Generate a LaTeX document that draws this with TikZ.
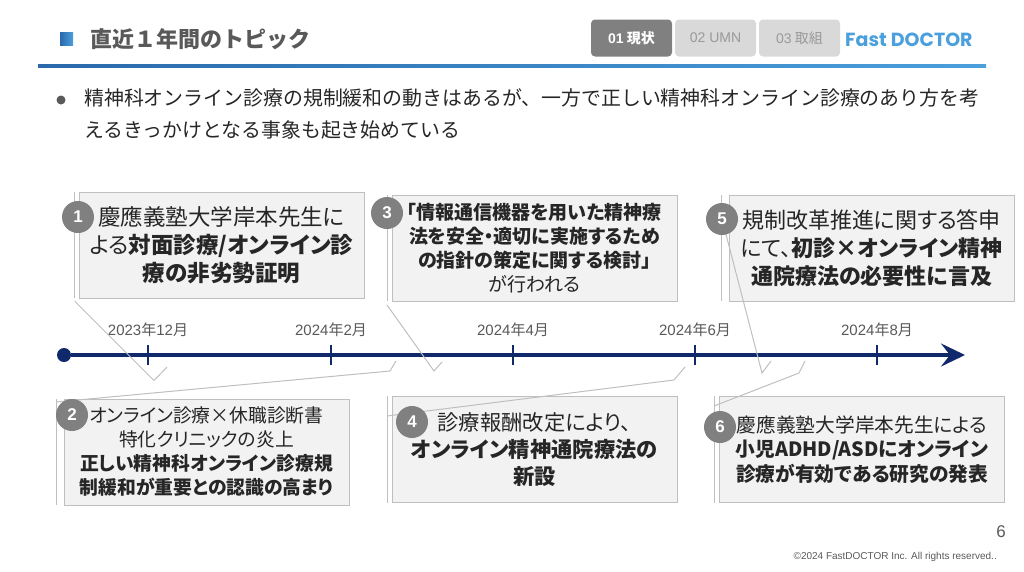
\documentclass[tikz,border=0pt]{standalone}
\usepackage{fontspec}
\setmainfont{Noto Sans CJK JP}
\newfontfamily\latinfont{Liberation Sans}
\newfontfamily\logofont{Poppins}
\usetikzlibrary{calc}
\usetikzlibrary{positioning}
\usetikzlibrary{arrows.meta}
\definecolor{navyline}{HTML}{10296B}
\definecolor{leadgray}{HTML}{BFBFBF}
\definecolor{boxfill}{HTML}{F2F2F2}
\definecolor{dotgray}{HTML}{808080}
\definecolor{tabgray}{HTML}{D9D9D9}
\definecolor{tabtext}{HTML}{999999}
\definecolor{bodytext}{HTML}{262626}
\definecolor{softtext}{HTML}{595959}
\definecolor{logoblue}{HTML}{4A9FDC}
\definecolor{ruledark}{HTML}{2A69AC}
\newcommand{\ymlabel}[2]{{\latinfont #1}年{\latinfont #2}月}
\newcommand{\boxfont}[2]{\addfontfeature{RawFeature=+palt}\fontsize{#1}{#2}\selectfont}
\tikzset{
	topicbox/.style={draw=leadgray,fill=boxfill,line width=1pt,minimum width=285pt,minimum height=106pt,inner sep=0pt,align=center,text=bodytext,execute at begin node={\vspace*{3pt}}},
	leadline/.style={draw=leadgray,line width=1pt},
	numdot/.style={circle,fill=dotgray,minimum size=32pt,inner sep=0pt,text=white,font=\latinfont\bfseries\fontsize{17}{17}\selectfont},
	tabbox/.style={rounded corners=4pt,minimum width=81pt,minimum height=37pt,inner sep=0pt,font=\fontsize{14}{14}\selectfont},
	tickline/.style={draw=navyline,line width=1.6pt},
	datelabel/.style={text=softtext,inner sep=0pt,font=\fontsize{15}{15}\selectfont},
}
\begin{document}
\begin{tikzpicture}[x=1pt,y=-1pt]
	\useasboundingbox (0,0) rectangle (1024,571);
	%header
	\node[minimum size=13pt,inner sep=0pt,left color=ruledark,right color=logoblue] (mark) at (66.5,38.5) {};
	\node[anchor=west,inner sep=0pt,text=softtext,font=\bfseries\fontsize{22}{22}\selectfont] (title) at (90,39.5) {直近１年間のトピック};
	\node[tabbox,fill=dotgray,text=white,font=\bfseries\fontsize{14}{14}\selectfont] (tab1) at (631.5,38) {{\latinfont 01} 現状};
	\node[tabbox,fill=tabgray,text=tabtext] (tab2) at (715.5,38) {{\latinfont 02 UMN}};
	\node[tabbox,fill=tabgray,text=tabtext] (tab3) at (799.5,38) {{\latinfont 03} 取組};
	\node[anchor=west,inner sep=0pt,text=logoblue,font=\logofont\bfseries\fontsize{19}{19}\selectfont] (logo) at (845,39.5) {Fast DOCTOR};
	\node[minimum width=948pt,minimum height=3pt,inner sep=0pt,left color=ruledark,right color=logoblue] (rule) at (512,66) {};
	%lead text
	\node[circle,fill=softtext,minimum size=9pt,inner sep=0pt] (bullet) at (61,100) {};
	\node[anchor=north west,inner sep=0pt,align=left,text=bodytext,font=\fontsize{19.9}{32}\selectfont] (lead) at (84,88) {精神科オンライン診療の規制緩和の動きはあるが、一方で正しい精神科オンライン診療のあり方を考\\えるきっかけとなる事象も起き始めている};
	%topic boxes
	\node[topicbox,font=\boxfont{22.5}{28}] (box1) at (221.5,245) {慶應義塾大学岸本先生に\\よる\textbf{対面診療/オンライン診}\\\textbf{療の非劣勢証明}};
	\node[topicbox,font=\boxfont{19}{24}] (box3) at (534.5,248) {\textbf{「情報通信機器を用いた精神療}\\\textbf{法を安全・適切に実施するため}\\\textbf{の指針の策定に関する検討」}\\が行われる};
	\node[topicbox,font=\boxfont{22}{28}] (box5) at (871.5,248) {規制改革推進に関する答申\\にて、\textbf{初診×オンライン精神}\\\textbf{通院療法の必要性に言及}};
	\node[topicbox,font=\boxfont{18.8}{24}] (box2) at (206.5,452) {オンライン診療×休職診断書\\特化クリニックの炎上\\\textbf{正しい精神科オンライン診療規}\\\textbf{制緩和が重要との認識の高まり}};
	\node[topicbox,font=\boxfont{21.3}{27}] (box4) at (534.5,449.5) {診療報酬改定により、\\\textbf{オンライン精神通院療法の}\\\textbf{新設}};
	\node[topicbox,font=\boxfont{19.7}{24.5}] (box6) at (862,449.5) {慶應義塾大学岸本先生による\\\textbf{小児ADHD/ASDにオンライン}\\\textbf{診療が有効である研究の発表}};
	%timeline
	\coordinate (axisend) at (965,355);
	\node[circle,fill=navyline,minimum size=14pt,inner sep=0pt] (origin) at (64,355) {};
	\draw[navyline,line width=3.6pt,-{Stealth[length=24pt,width=23pt,inset=9pt]}] (origin)--(axisend);
	\foreach \tx/\ty/\tm/\tname in {148/2023/12/a,331/2024/2/b,513/2024/4/c,695/2024/6/d,877/2024/8/e}{
		\coordinate (tick\tname top) at (\tx,345);
		\coordinate (tick\tname bottom) at (\tx,365);
		\draw[tickline] (tick\tname top)--(tick\tname bottom);
		\node[datelabel] (date\tname) at (\tx,330) {\ymlabel{\ty}{\tm}};
	}
	%brackets beside the boxes
	\foreach \bname/\bx/\btop/\bbottom in {1/74.5/192/298,3/387/195/301,5/721/195/301,2/56/399/505,4/387/396/503,6/714/396/503}{
		\coordinate (side\bname top) at (\bx,\btop);
		\coordinate (side\bname bottom) at (\bx,\bbottom);
		\draw[leadline] (side\bname top)--(side\bname bottom);
	}
	%lead lines to the axis
	\coordinate (lead1a) at (74.5,301);
	\coordinate (lead1b) at (154,380.5);
	\coordinate (lead1c) at (167,367);
	\draw[leadline] (lead1a)--(lead1b)--(lead1c);
	\coordinate (lead3a) at (387,305);
	\coordinate (lead3b) at (434,371);
	\coordinate (lead3c) at (442,362);
	\draw[leadline] (lead3a)--(lead3b)--(lead3c);
	\coordinate (lead5a) at (722,219);
	\coordinate (lead5b) at (762,373);
	\coordinate (lead5c) at (771,361);
	\draw[leadline] (lead5a)--(lead5b)--(lead5c);
	\coordinate (lead2a) at (56,402);
	\coordinate (lead2b) at (390,371);
	\coordinate (lead2c) at (396,361);
	\draw[leadline] (lead2a)--(lead2b)--(lead2c);
	\coordinate (lead4a) at (387,416);
	\coordinate (lead4b) at (674,380);
	\coordinate (lead4c) at (685,367);
	\draw[leadline] (lead4a)--(lead4b)--(lead4c);
	\coordinate (lead6a) at (714,406);
	\coordinate (lead6b) at (799,373);
	\coordinate (lead6c) at (805,361);
	\draw[leadline] (lead6a)--(lead6b)--(lead6c);
	%numbers
	\node[numdot] (dot1) at (78,217) {1};
	\node[numdot] (dot3) at (387,213) {3};
	\node[numdot] (dot5) at (722,219) {5};
	\node[numdot] (dot2) at (72,415) {2};
	\node[numdot] (dot4) at (412,422) {4};
	\node[numdot] (dot6) at (720,427) {6};
	%footer
	\node[anchor=east,inner sep=0pt,text=softtext,font=\latinfont\fontsize{17}{17}\selectfont] (page) at (1006,532) {6};
	\node[anchor=east,inner sep=0pt,text=softtext,font=\latinfont\fontsize{10}{10}\selectfont] (copy) at (997,557) {©2024 FastDOCTOR Inc. All rights reserved..};
\end{tikzpicture}
\end{document}
